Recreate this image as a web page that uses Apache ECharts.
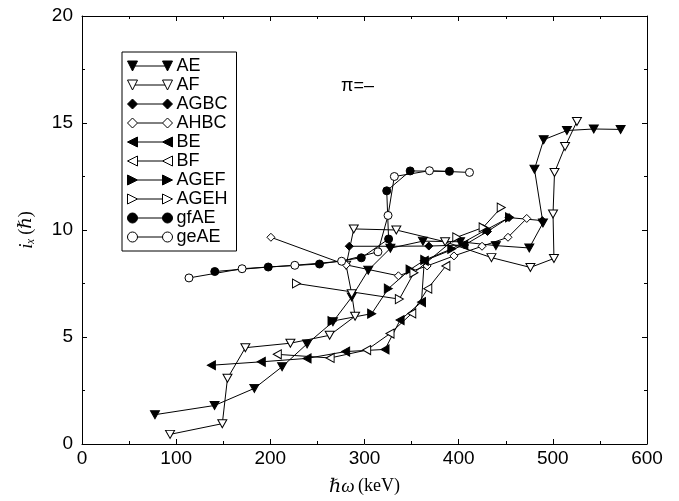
<!DOCTYPE html>
<html>
<head>
<meta charset="utf-8">
<script src="https://cdn.jsdelivr.net/npm/echarts@6/dist/echarts.min.js"></script>
<style>
  html, body { margin: 0; padding: 0; background: #fff; }
  #chart { width: 679px; height: 501px; }
</style>
</head>
<body>
<div id="chart"></div>
<script>
// Aligned angular momentum i_x versus rotational frequency, one band per array: [ħω (keV), i_x (ħ)]
const AE = [[77.5,1.37],[140.8,1.8],[183,2.6],[212.5,3.61],[239,4.68],[266.5,5.71],[286.5,6.87],[304,8.12],[327.5,9.15],[362,9.48],[401.5,9.45],[439.5,9.27],[475,9.16],[489.5,10.33],[480.5,12.84],[490.3,14.22],[515,14.65],[543.5,14.72],[572,14.7]];
const AF = [[93.5,0.45],[149,0.95],[154.5,3.07],[173.5,4.5],[221.3,4.71],[263,5.08],[290,5.97],[286.4,7.02],[280.5,8.35],[288.6,10.05],[333.8,10.0],[385.6,9.45],[434.8,8.71],[476.2,8.25],[501.2,8.67],[500.2,10.75],[501.8,12.69],[513,13.9],[525.6,15.07]];
const AGBC = [[283.8,9.24],[327,9.24],[368.3,9.25],[406.3,9.3],[430.6,9.93],[453.5,10.58],[488.8,10.44]];
const AHBC = [[200.6,9.66],[280.6,8.37],[336,7.86],[366.5,8.32],[395,8.79],[424.8,9.24],[452.4,9.66],[472.3,10.54]];
const BE = [[137.4,3.68],[190.4,3.84],[239,4.0],[280,4.32],[321.8,4.42],[337.8,5.79],[360.5,6.63],[363.5,8.56],[405.5,9.3]];
const BF = [[207.4,4.19],[263.5,4.02],[302.3,4.39],[327.1,5.16],[350.2,6.1],[367.2,7.26],[386.4,8.32]];
const AGEF = [[265.5,5.74],[307.6,6.09],[325.3,7.26],[348.4,8.15],[364,8.6],[392.7,9.12],[430,10.03],[454,10.59]];
const AGEH = [[227.8,7.5],[337,6.77],[352.5,8.0],[398,9.66],[426,10.12],[445.2,11.05]];
const gfAE = [[141,8.06],[197.8,8.27],[252.2,8.41],[296.6,8.7],[325.6,9.58],[323.6,11.83],[348.5,12.76],[390.2,12.74]];
const geAE = [[113.6,7.76],[170,8.19],[226,8.35],[275.7,8.54],[314.3,8.98],[325,10.68],[331.7,12.5],[369,12.77],[411.5,12.69]];

const xTicks = { min: 0, max: 600, step: 100 };
const yTicks = { min: 0, max: 20, step: 5 };

// marker kinds: shape, filled or open
const bands = [
  { name: 'AE',   data: AE,   shape: 'down',    filled: true  },
  { name: 'AF',   data: AF,   shape: 'down',    filled: false },
  { name: 'AGBC', data: AGBC, shape: 'diamond', filled: true  },
  { name: 'AHBC', data: AHBC, shape: 'diamond', filled: false },
  { name: 'BE',   data: BE,   shape: 'left',    filled: true  },
  { name: 'BF',   data: BF,   shape: 'left',    filled: false },
  { name: 'AGEF', data: AGEF, shape: 'right',   filled: true  },
  { name: 'AGEH', data: AGEH, shape: 'right',   filled: false },
  { name: 'gfAE', data: gfAE, shape: 'circle',  filled: true  },
  { name: 'geAE', data: geAE, shape: 'circle',  filled: false }
];

const FONT = '"Liberation Sans", Arial, sans-serif';
const SERIF = '"Liberation Serif", "DejaVu Serif", serif';

function markerOf(shape) {
  switch (shape) {
    case 'down':    return { symbol: 'triangle', symbolRotate: 180, symbolSize: [9, 8] };
    case 'left':    return { symbol: 'triangle', symbolRotate: 90,  symbolSize: [9, 8] };
    case 'right':   return { symbol: 'triangle', symbolRotate: -90, symbolSize: [9, 8] };
    case 'diamond': return { symbol: 'diamond',  symbolRotate: 0,   symbolSize: [8, 8] };
    default:        return { symbol: 'circle',   symbolRotate: 0,   symbolSize: 8 };
  }
}

// legend icon: marker — line — marker in a 45x10 box
function legendPath(shape) {
  switch (shape) {
    case 'down':
      return 'path://M0,0L10,0L5,10ZM7.5,5L37.5,5M35,0L45,0L40,10Z';
    case 'left':
      return 'path://M0,5L10,0L10,10ZM10,5L35,5M35,5L45,0L45,10Z';
    case 'right':
      return 'path://M0,0L10,5L0,10ZM10,5L35,5M35,0L45,5L35,10Z';
    case 'diamond':
      return 'path://M5,0L10,5L5,10L0,5ZM10,5L35,5M40,0L45,5L40,10L35,5Z';
    default:
      return 'path://M0,5A5,5,0,1,0,10,5A5,5,0,1,0,0,5ZM10,5L35,5M35,5A5,5,0,1,0,45,5A5,5,0,1,0,35,5Z';
  }
}

const series = bands.map(b => Object.assign({
  name: b.name,
  type: 'line',
  data: b.data,
  xAxisIndex: 0,
  yAxisIndex: 0,
  showAllSymbol: true,
  animation: false,
  lineStyle: { color: '#000', width: 1 },
  itemStyle: { color: b.filled ? '#000' : '#fff', borderColor: '#000', borderWidth: 1 },
  emphasis: { disabled: true }
}, markerOf(b.shape)));

function frameAxis() {
  return {
    axisLine: { show: true, onZero: false, lineStyle: { color: '#000', width: 1 } },
    axisTick: { show: true, inside: true, length: 5, lineStyle: { color: '#000' } },
    minorTick: { show: true, splitNumber: 2, length: 3, lineStyle: { color: '#000' } },
    splitLine: { show: false }
  };
}

const chart = echarts.init(document.getElementById('chart'), null, { renderer: 'canvas' });
chart.setOption({
  backgroundColor: '#fff',
  animation: false,
  title: {
    text: 'π=–',
    left: 336,
    top: 72,
    textStyle: { fontFamily: FONT, fontSize: 18, fontWeight: 'normal', color: '#000' }
  },
  grid: { left: 82, right: 32, top: 16, bottom: 55, show: false },
  legend: {
    orient: 'vertical',
    left: 122,
    top: 52,
    padding: [5, 9, 5, 5],
    itemGap: 1,
    itemWidth: 45,
    itemHeight: 10,
    selectedMode: false,
    borderColor: '#000',
    borderWidth: 1,
    textStyle: { fontFamily: FONT, fontSize: 18, color: '#000', padding: [0, 0, 0, -1] },
    data: bands.map(b => ({
      name: b.name,
      icon: legendPath(b.shape),
      itemStyle: { color: b.filled ? '#000' : '#fff', borderColor: '#000', borderWidth: 1 }
    }))
  },
  xAxis: [
    Object.assign({
      type: 'value', position: 'bottom',
      min: xTicks.min, max: xTicks.max, interval: xTicks.step,
      name: '{i|ℏω} {r|(keV)}',
      nameLocation: 'middle', nameGap: 33,
      nameTextStyle: {
        color: '#000',
        rich: {
          i: { fontFamily: SERIF, fontStyle: 'italic', fontSize: 19, color: '#000' },
          r: { fontFamily: SERIF, fontSize: 18, color: '#000' }
        }
      },
      axisLabel: { fontFamily: FONT, fontSize: 19, color: '#000', margin: 5 }
    }, frameAxis()),
    Object.assign({
      type: 'value', position: 'top',
      min: xTicks.min, max: xTicks.max, interval: xTicks.step,
      axisLabel: { show: false }
    }, frameAxis())
  ],
  yAxis: [
    Object.assign({
      type: 'value', position: 'left',
      min: yTicks.min, max: yTicks.max, interval: yTicks.step,
      name: '{i|iₓ} {r|(ℏ)}',
      nameLocation: 'middle', nameGap: 46,
      nameTextStyle: {
        color: '#000',
        rich: {
          i: { fontFamily: SERIF, fontStyle: 'italic', fontSize: 19, color: '#000' },
          r: { fontFamily: SERIF, fontSize: 18, color: '#000' }
        }
      },
      axisLabel: { fontFamily: FONT, fontSize: 19, color: '#000', margin: 9 }
    }, frameAxis()),
    Object.assign({
      type: 'value', position: 'right',
      min: yTicks.min, max: yTicks.max, interval: yTicks.step,
      axisLabel: { show: false }
    }, frameAxis())
  ],
  series: series
});
</script>
</body>
</html>
